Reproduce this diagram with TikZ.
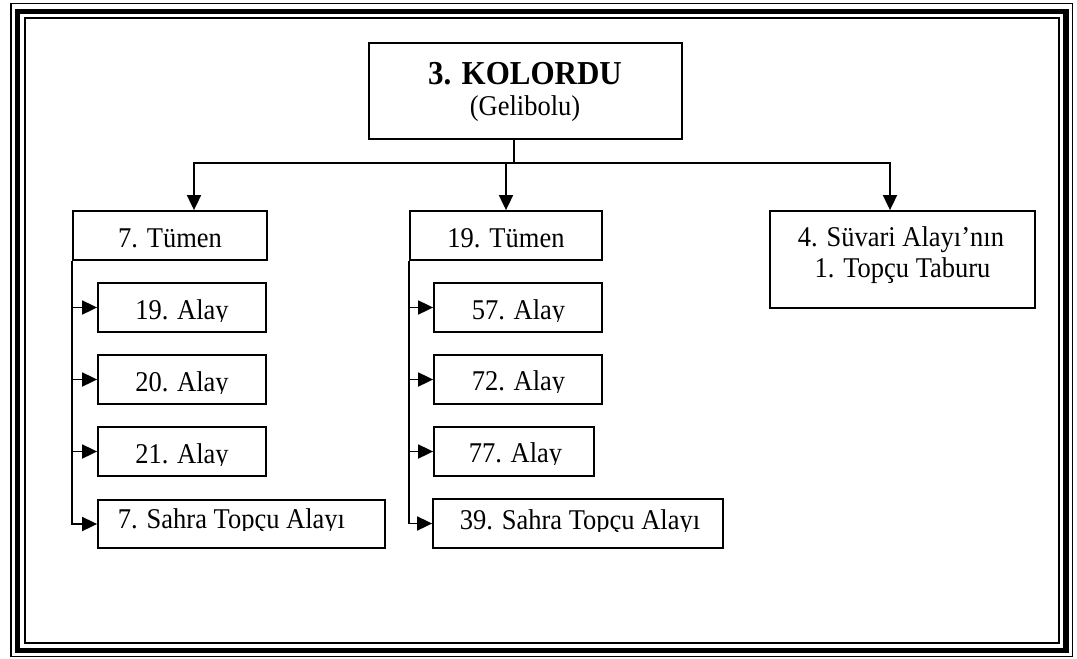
\documentclass[tikz,border=0pt]{standalone}
\usepackage{fontspec}
\usepackage{graphicx}
\setmainfont{Liberation Serif}
\usetikzlibrary{arrows.meta}
\newcommand\tallt[1]{\scalebox{1}[1.08]{#1}}
\tikzset{
  box/.style={draw, line width=1.8pt, inner sep=0pt},
  lbl/.style={inner sep=0pt, anchor=base, font=\fontsize{26.5}{30}\selectfont},
  blbl/.style={inner sep=0pt, anchor=base, font=\fontsize{31}{34}\selectfont\bfseries},
  conn/.style={line width=1.8pt},
  arr/.style={conn, -{Triangle[length=15pt,width=14pt]}},
  frame/.style={draw, line width=#1},
}
\begin{document}
\begin{tikzpicture}[x=1pt, y=-1pt]
\useasboundingbox (0,0) rectangle (1077,659);
% triple frame
\draw[frame=1.3pt] (11,3.5) rectangle (1072.5,656.5);
\draw[frame=5.5pt] (17.5,11.5) rectangle (1066,650.5);
\draw[frame=2pt] (25,18) rectangle (1059,643);

% top box
\node[box, minimum width=313, minimum height=96] (top) at (525.5,91) {};
\node[blbl] (topt) at (525,84) {\tallt{3. KOLORDU}};
\node[lbl] (tops) at (525,115) {\tallt{(Gelibolu)}};

% divisions
\node[box, minimum width=194, minimum height=49] (t7) at (170,235.5) {};
\node[lbl] (t7t) at (170,247) {\tallt{7. Tümen}};
\node[box, minimum width=192, minimum height=49] (t19) at (506,235.5) {};
\node[lbl] (t19t) at (506,247) {\tallt{19. Tümen}};
\node[box, minimum width=265, minimum height=97] (r) at (902.5,259.5) {};
\node[lbl] (r1) at (901,246) {\tallt{4. Süvari Alayı’nın}};
\node[lbl] (r2) at (902.5,277) {\tallt{1. Topçu Taburu}};

% regiments, left column
\node[box, minimum width=168, minimum height=49] (a19) at (182,307.5) {};
\node[box, minimum width=168, minimum height=49] (a20) at (182,379.5) {};
\node[box, minimum width=168, minimum height=49] (a21) at (182,451.5) {};
\node[box, minimum width=287, minimum height=48] (s7) at (241.5,524) {};
% regiments, middle column
\node[box, minimum width=168, minimum height=49] (a57) at (518,307.5) {};
\node[box, minimum width=168, minimum height=49] (a72) at (518,379.5) {};
\node[box, minimum width=160, minimum height=49] (a77) at (514,451.5) {};
\node[box, minimum width=290, minimum height=49] (s39) at (578,523.5) {};

% clipped labels (descenders cut off as in the source)
\begin{scope}\clip (98,283) rectangle (266,321);
\node[lbl] (a19t) at (182,319) {\tallt{19. Alay}};\end{scope}
\begin{scope}\clip (98,355) rectangle (266,393);
\node[lbl] (a20t) at (182,391) {\tallt{20. Alay}};\end{scope}
\begin{scope}\clip (98,427) rectangle (266,465);
\node[lbl] (a21t) at (182,463) {\tallt{21. Alay}};\end{scope}
\begin{scope}\clip (98,500) rectangle (385,530);
\node[lbl] (s7t) at (231.5,528) {\tallt{7. Sahra Topçu Alayı}};\end{scope}
\begin{scope}\clip (434,283) rectangle (602,321);
\node[lbl] (a57t) at (518.5,319) {\tallt{57. Alay}};\end{scope}
\begin{scope}\clip (434,355) rectangle (602,392);
\node[lbl] (a72t) at (518.5,390) {\tallt{72. Alay}};\end{scope}
\begin{scope}\clip (434,427) rectangle (594,464);
\node[lbl] (a77t) at (515.5,462) {\tallt{77. Alay}};\end{scope}
\begin{scope}\clip (433,499) rectangle (723,531);
\node[lbl] (s39t) at (580,529) {\tallt{39. Sahra Topçu Alayı}};\end{scope}

% connectors from the corps
\coordinate (j) at (514,163);
\coordinate (hl) at (194,163);
\coordinate (hr) at (890,163);
\draw[conn] (top.south -| j) -- (j);
\draw[arr] (j) -| (hl |- t7.north);
\draw[arr] (j) -| (hr |- r.north);
\draw[arr] (t19.north |- j) -- (t19.north);

% left column connectors
\foreach \n in {a19,a20,a21,s7}
  \draw[arr] (t7.south west) |- (\n.west);
% middle column connectors
\foreach \n in {a57,a72,a77,s39}
  \draw[arr] (t19.south west) |- (\n.west);
\end{tikzpicture}
\end{document}
